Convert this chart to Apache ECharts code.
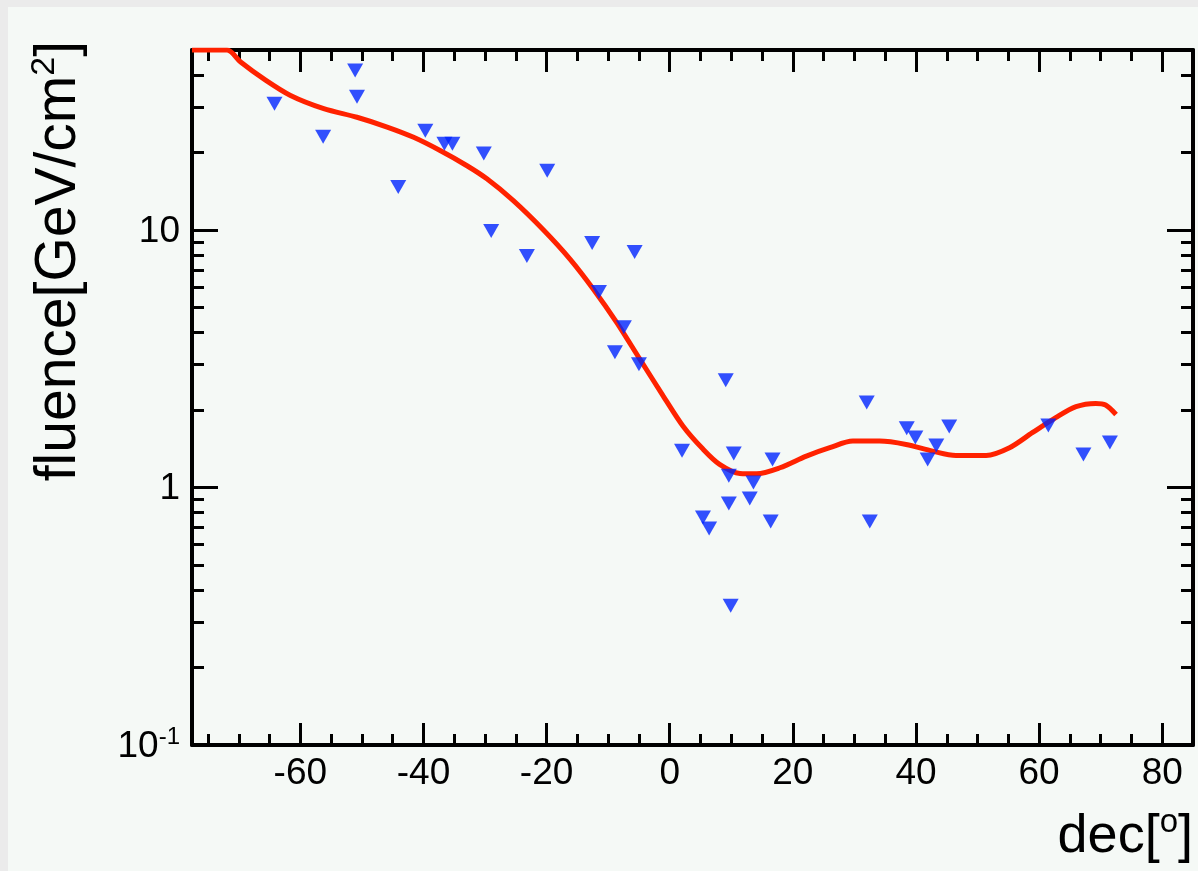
<!DOCTYPE html>
<html>
<head>
<meta charset="utf-8">
<script src="https://cdn.jsdelivr.net/npm/echarts@6/dist/echarts.min.js"></script>
<style>
  html, body { margin: 0; padding: 0; background: #ebebeb; }
  #fluence-chart {
    position: absolute;
    left: 8px;
    top: 7px;
    width: 1190px;
    height: 864px;
    background-color: #f5f9f6;
  }
</style>
</head>
<body>
<div id="fluence-chart"></div>
<script>
// tick labels
const decMajor = [-60, -40, -20, 0, 20, 40, 60, 80]
const decMinor = [-75, -70, -65, -55, -50, -45, -35, -30, -25, -15, -10, -5, 5, 10, 15, 25, 30, 35, 45, 50, 55, 65, 70, 75, 85]
const fluMajor = [0.1, 1, 10]
const fluMinor = [0.2, 0.3, 0.4, 0.5, 0.6, 0.7, 0.8, 0.9, 2, 3, 4, 5, 6, 7, 8, 9, 20, 30, 40]

// measured points (triangles)
const ptDec = [-64.2, -56.3, -51.1, -50.8, -44.1, -39.7, -36.6, -35.3, -30.2, -29.0,
  -23.2, -19.9, -12.6, -11.5, -7.45, -8.9, -5.0, -5.7, 2.0, 5.4,
  6.4, 9.1, 9.6, 9.6, 9.9, 10.4, 13.0, 13.6, 16.4, 16.7,
  32.0, 32.5, 38.5, 39.9, 41.9, 43.3, 45.4, 61.5, 67.2, 71.5]
const ptFlux = [30.9, 23.0, 41.6, 32.9, 14.7, 24.3, 21.6, 21.6, 19.8, 9.9,
  7.93, 17.0, 8.9, 5.74, 4.19, 3.35, 3.01, 8.21, 1.39, 0.764,
  0.693, 2.61, 1.11, 0.866, 0.347, 1.356, 0.906, 1.046, 0.738, 1.285,
  2.14, 0.738, 1.70, 1.565, 1.285, 1.456, 1.726, 1.74, 1.343, 1.496]

// fitted curve (red)
const curveDec = [-77.6, -71.9, -69.7, -66.0, -61.6, -56.2, -50.8, -45.9, -41.6, -37.3,
  -33.0, -29.7, -25.4, -20.5, -16.2, -12.4, -8.6, -4.85, -1.07, 2.17,
  5.4, 8.1, 11.4, 14.1, 17.9, 22.2, 26.0, 29.75, 34.1, 38.4,
  42.7, 46.5, 51.4, 55.2, 58.9, 62.7, 66.0, 69.2, 70.8, 72.5]
const curveFlux = [50, 50, 44.9, 38.7, 33.3, 29.6, 27.4, 25.1, 22.9, 20.35,
  17.8, 15.8, 13.0, 10.0, 7.71, 5.89, 4.37, 3.15, 2.27, 1.73,
  1.41, 1.23, 1.134, 1.131, 1.193, 1.324, 1.427, 1.514, 1.514, 1.469,
  1.384, 1.332, 1.332, 1.427, 1.632, 1.867, 2.06, 2.12, 2.09, 1.92]

const FONT = '"Liberation Sans", Arial, Helvetica, sans-serif'
const lineStyle = {color: '#000', width: 4}

function xAxisOf(position, values, len, showLine, showLabel){
  return {
    type: 'value',
    position: position,
    min: -77.6,
    max: 85,
    axisLine: {show: showLine, onZero: false, lineStyle: lineStyle},
    axisTick: {show: true, inside: true, length: len, customValues: values, lineStyle: {color: '#000', width: 3}},
    axisLabel: {
      show: showLabel,
      customValues: values,
      margin: 10,
      color: '#000',
      fontFamily: FONT,
      fontSize: 37
    },
    splitLine: {show: false}
  }
}

function yAxisOf(position, values, len, showLine, showLabel){
  return {
    type: 'log',
    logBase: 10,
    position: position,
    min: 0.1,
    max: 50,
    axisLine: {show: showLine, onZero: false, lineStyle: lineStyle},
    axisTick: {show: true, inside: true, length: len, customValues: values, lineStyle: {color: '#000', width: 3}},
    axisLabel: {
      show: showLabel,
      customValues: values,
      margin: 12,
      formatter: function (v) {
        if (v < 0.5) return '{b|10}{s|-1}'
        return '{b|' + Math.round(v) + '}'
      },
      rich: {
        b: {fontFamily: FONT, fontSize: 37, color: '#000', lineHeight: 40, verticalAlign: 'bottom'},
        s: {fontFamily: FONT, fontSize: 24, color: '#000', lineHeight: 40, verticalAlign: 'top'}
      }
    },
    splitLine: {show: false}
  }
}

const myChart = echarts.init(document.getElementById('fluence-chart'))
const options = {
  animation: false,
  grid: {left: 184, top: 43, right: 5, bottom: 126},
  xAxis: [
    xAxisOf('bottom', decMajor, 22, true, true),
    xAxisOf('bottom', decMinor, 11, false, false),
    xAxisOf('top', decMajor, 22, true, false),
    xAxisOf('top', decMinor, 11, false, false)
  ],
  yAxis: [
    yAxisOf('left', fluMajor, 26, true, true),
    yAxisOf('left', fluMinor, 12, false, false),
    yAxisOf('right', fluMajor, 26, true, false),
    yAxisOf('right', fluMinor, 12, false, false)
  ],
  graphic: [
    {
      type: 'text',
      right: 5,
      bottom: 7,
      style: {
        text: '{a|dec[}{s|o}{a|]}',
        rich: {
          a: {fontFamily: FONT, fontSize: 54, fill: '#000', lineHeight: 58, verticalAlign: 'bottom'},
          s: {fontFamily: FONT, fontSize: 33, fill: '#000', lineHeight: 58, verticalAlign: 'top'}
        }
      }
    },
    {
      type: 'text',
      x: 20,
      y: 34,
      rotation: Math.PI / 2,
      style: {
        text: '{a|fluence[GeV/cm}{s|2}{a|]}',
        align: 'right',
        verticalAlign: 'top',
        rich: {
          a: {fontFamily: FONT, fontSize: 57, fill: '#000', lineHeight: 60, verticalAlign: 'bottom'},
          s: {fontFamily: FONT, fontSize: 34, fill: '#000', lineHeight: 60, verticalAlign: 'top'}
        }
      }
    }
  ],
  series: [
    {
      name: 'fit',
      type: 'line',
      xAxisIndex: 0,
      yAxisIndex: 0,
      data: curveDec.map((d, i) => [d, curveFlux[i]]),
      smooth: 0.3,
      showSymbol: false,
      lineStyle: {color: '#ff2200', width: 5},
      z: 2
    },
    {
      name: 'data',
      type: 'scatter',
      xAxisIndex: 0,
      yAxisIndex: 0,
      data: ptDec.map((d, i) => [d, ptFlux[i]]),
      symbol: 'triangle',
      symbolRotate: 180,
      symbolSize: [16, 14],
      itemStyle: {color: '#0024ff'},
      z: 3
    }
  ]
}
myChart.setOption(options)
</script>
</body>
</html>
